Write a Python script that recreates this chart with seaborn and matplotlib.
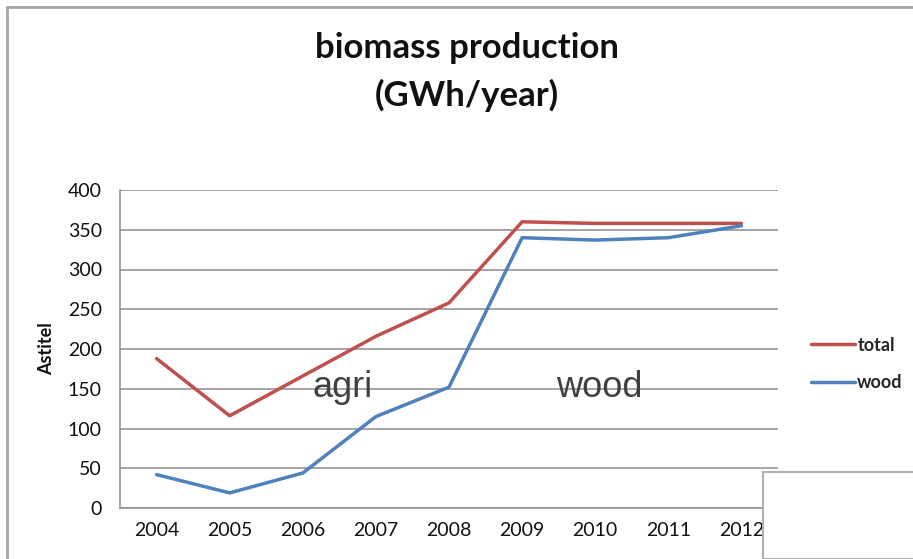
import pandas as pd
import matplotlib.pyplot as plt
import seaborn as sns
from matplotlib.patches import Rectangle
from matplotlib.lines import Line2D

# chart data
years = [2004, 2005, 2006, 2007, 2008, 2009, 2010, 2011, 2012]
total = [188, 116, 166, 216, 258, 360, 358, 358, 358]
wood = [42, 19, 44, 115, 152, 340, 337, 340, 355]
series_names = ['total', 'wood']
series_colors = ['#C0504D', '#4F81BD']
y_ticks = [0, 50, 100, 150, 200, 250, 300, 350, 400]

df = pd.DataFrame({'year': years * 2,
                   'value': total + wood,
                   'series': ['total'] * len(years) + ['wood'] * len(years)})

sns.set_style('white')
plt.rcParams['font.family'] = ['Lato', 'DejaVu Sans']

fig = plt.figure(figsize=(9.13, 5.59), dpi=100)
ax = fig.add_axes([120 / 913, 1 - 508 / 559, 658 / 913, 318 / 559])

sns.lineplot(data=df, x='year', y='value', hue='series', hue_order=series_names,
             palette=series_colors, linewidth=2.5, ax=ax, legend=False, zorder=3)

ax.set_xlim(2003.5, 2012.5)
ax.set_ylim(0, 400)
ax.set_xticks(years)
ax.set_xticklabels([str(y) for y in years])
ax.set_yticks(y_ticks)
ax.yaxis.grid(True, color='#8c8c8c', linewidth=1.1)
ax.set_axisbelow(True)
ax.tick_params(axis='both', labelsize=14, colors='#111111', length=0, pad=10)
ax.tick_params(axis='y', pad=13)
for s in ['top', 'right']:
    ax.spines[s].set_visible(False)
for s in ['left', 'bottom']:
    ax.spines[s].set_color('#8c8c8c')
    ax.spines[s].set_linewidth(1.1)

ax.set_xlabel('')
ax.set_ylabel('Astitel', fontsize=13, fontweight='bold', color='#111111', labelpad=9)

# annotations inside the plot
ax.text(2006.54, 151, 'agri', fontsize=26, color='#404040', ha='center', va='center',
        family=['Liberation Sans', 'DejaVu Sans'])
ax.text(2010.06, 151, 'wood', fontsize=26, color='#404040', ha='center', va='center',
        family=['Liberation Sans', 'DejaVu Sans'])

# legend
handles = [Line2D([], [], color=c, linewidth=2.5) for c in series_colors]
fig.legend(handles, series_names, loc='center left', bbox_to_anchor=(795 / 913, 1 - 364 / 559),
           frameon=False, handlelength=2.4, handletextpad=0.15,
           labelspacing=1.15, prop={'weight': 'bold', 'size': 13})

# title
fig.text(467 / 913, 1 - 48 / 559, 'biomass production', ha='center', va='center',
         fontsize=25, fontweight='bold', color='#111111')
fig.text(467 / 913, 1 - 95 / 559, '(GWh/year)', ha='center', va='center',
         fontsize=25, fontweight='bold', color='#111111')

# outer chart frame and the overlapping box at bottom right
fig.add_artist(Line2D([7 / 913, 1.0], [1 - 7 / 559, 1 - 7 / 559], color='#a6a6a6', linewidth=2))
fig.add_artist(Line2D([7 / 913, 7 / 913], [0, 1 - 7 / 559], color='#a6a6a6', linewidth=2))
fig.add_artist(Rectangle((763 / 913, 0), 0.2, 1 - 472 / 559, facecolor='white',
                         edgecolor='#b0b0b0', linewidth=1.5, zorder=5))

plt.savefig('out.png', dpi=100)
